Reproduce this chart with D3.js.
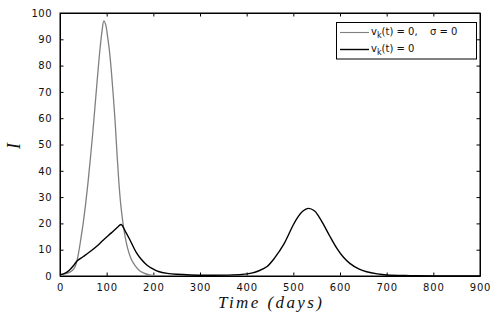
<!DOCTYPE html>
<html>
<head>
<meta charset="utf-8">
<script src="https://cdn.jsdelivr.net/npm/d3@7"></script>
<style>
  html, body { margin: 0; padding: 0; background: #fff; }
  svg { display: block; }
</style>
</head>
<body>
<svg id="chart" width="501" height="315"></svg>
<script>
// ---- Data ----
const grayT = [0, 10, 20, 25, 30, 35, 40, 45, 50, 55, 60, 65, 70, 75, 80, 85, 90, 94, 98, 102, 106, 110, 114, 118, 122, 126, 130, 135, 140, 145, 150, 155, 160, 170, 180, 190, 200, 230, 300, 900];
const grayI = [0.5, 0.8, 1.4, 1.9, 2.8, 4.8, 9, 14.5, 20.5, 27.5, 35.5, 44.5, 54, 64.5, 75, 85, 93, 97, 95.5, 91, 85.5, 78, 69, 59, 47, 36, 27.5, 20, 14.5, 10.5, 7.6, 5.6, 4.2, 2.1, 1.1, 0.5, 0.2, 0.05, 0, 0];

const blackT = [0, 10, 20, 30, 37, 50, 64, 80, 93, 110, 125, 131, 140, 150, 164, 175, 186, 200, 211, 230, 250, 280, 320, 360, 390, 410, 425, 443, 460, 480, 490, 500, 510, 520, 532, 545, 555, 564, 578, 593, 607, 621, 640, 657, 680, 700, 750, 800, 900];
const blackI = [0.5, 1.0, 2.2, 4.2, 5.8, 7.4, 9.2, 11.5, 13.7, 16.4, 18.8, 19.6, 17, 13.7, 8.8, 6.2, 4.2, 2.6, 1.7, 1.0, 0.65, 0.4, 0.3, 0.35, 0.6, 1.1, 1.9, 3.5, 6.9, 12.2, 15.8, 19.5, 22.5, 24.6, 25.7, 24.8, 22.5, 19.8, 15.2, 10.6, 7.2, 4.8, 2.7, 1.6, 0.8, 0.4, 0.15, 0.05, 0];

const xTicks = [0, 100, 200, 300, 400, 500, 600, 700, 800, 900];
const yTicks = [0, 10, 20, 30, 40, 50, 60, 70, 80, 90, 100];

// ---- Layout ----
const svg = d3.select("#chart");
const pL = 60, pR = 480, pT = 13, pB = 276;

const x = d3.scaleLinear().domain([0, 900]).range([pL, pR]);
const y = d3.scaleLinear().domain([0, 100]).range([pB, pT]);

const tickFont = "'DejaVu Sans', sans-serif";

// Plot frame
svg.append("rect")
  .attr("x", pL).attr("y", pT)
  .attr("width", pR - pL).attr("height", pB - pT)
  .attr("fill", "none").attr("stroke", "#000").attr("stroke-width", 1);

// Clip
svg.append("clipPath").attr("id", "clip")
  .append("rect").attr("x", pL).attr("y", pT)
  .attr("width", pR - pL).attr("height", pB - pT);

// Axes (inner ticks on all four sides)
const axB = svg.append("g").attr("transform", `translate(0,${pB})`)
  .call(d3.axisBottom(x).tickValues(xTicks).tickSizeInner(-3.5).tickSizeOuter(0).tickPadding(7.5));
const axT = svg.append("g").attr("transform", `translate(0,${pT})`)
  .call(d3.axisTop(x).tickValues(xTicks).tickSizeInner(-3.5).tickSizeOuter(0).tickFormat(""));
const axL = svg.append("g").attr("transform", `translate(${pL},0)`)
  .call(d3.axisLeft(y).tickValues(yTicks).tickSizeInner(-3.5).tickSizeOuter(0).tickPadding(8));
const axR = svg.append("g").attr("transform", `translate(${pR},0)`)
  .call(d3.axisRight(y).tickValues(yTicks).tickSizeInner(-3.5).tickSizeOuter(0).tickFormat(""));

[axB, axT, axL, axR].forEach(g => {
  g.select(".domain").attr("stroke", "#000");
  g.selectAll(".tick line").attr("stroke", "#000");
  g.selectAll("text").attr("font-family", tickFont).attr("font-size", 10).attr("fill", "#111");
});
axB.selectAll("text").attr("letter-spacing", 0.8);
axL.selectAll("text").attr("letter-spacing", 0.5);

// Lines
const line = d3.line().x(d => x(d[0])).y(d => y(d[1])).curve(d3.curveCatmullRom.alpha(0.5));
const plot = svg.append("g").attr("clip-path", "url(#clip)");

plot.append("path")
  .datum(grayT.map((t, i) => [t, grayI[i]]))
  .attr("d", line)
  .attr("fill", "none").attr("stroke", "#808080").attr("stroke-width", 1.3);

plot.append("path")
  .datum(blackT.map((t, i) => [t, blackI[i]]))
  .attr("d", line)
  .attr("fill", "none").attr("stroke", "#000").attr("stroke-width", 1.4);

// Axis labels
svg.append("text")
  .attr("x", 270).attr("y", 308)
  .attr("text-anchor", "middle")
  .attr("font-family", "'Liberation Serif', 'DejaVu Serif', serif")
  .attr("font-style", "italic")
  .attr("font-size", 17)
  .attr("textLength", 104)
  .attr("lengthAdjust", "spacing")
  .attr("fill", "#111")
  .text("Time (days)");

svg.append("text")
  .attr("transform", "translate(19.5,146) rotate(-90)")
  .attr("text-anchor", "middle")
  .attr("font-family", "'Liberation Serif', 'DejaVu Serif', serif")
  .attr("font-style", "italic")
  .attr("font-size", 18)
  .attr("fill", "#111")
  .text("I");

// Legend
const legend = svg.append("g");
legend.append("rect")
  .attr("x", 336.5).attr("y", 22.5)
  .attr("width", 140).attr("height", 36.5)
  .attr("fill", "#fff").attr("stroke", "#000").attr("stroke-width", 1);

const legItems = [
  { color: "#808080", w: 1.1, y: 32.5, sigma: true },
  { color: "#000", w: 1.4, y: 49.5, sigma: false }
];
legItems.forEach(it => {
  legend.append("line")
    .attr("x1", 340).attr("x2", 369)
    .attr("y1", it.y).attr("y2", it.y)
    .attr("stroke", it.color).attr("stroke-width", it.w);
  const t = legend.append("text")
    .attr("x", 371).attr("y", it.y + 2.5)
    .attr("font-family", tickFont).attr("font-size", 10).attr("fill", "#111");
  t.append("tspan").text("v");
  t.append("tspan").attr("dy", 2.5).attr("font-size", 8).text("k");
  t.append("tspan").attr("dy", -2.5).text(it.sigma ? "(t) = 0," : "(t) = 0");
  if (it.sigma) {
    legend.append("text")
      .attr("x", 430).attr("y", it.y + 2.5)
      .attr("font-family", tickFont).attr("font-size", 10).attr("fill", "#111")
      .text("σ = 0");
  }
});
</script>
</body>
</html>
